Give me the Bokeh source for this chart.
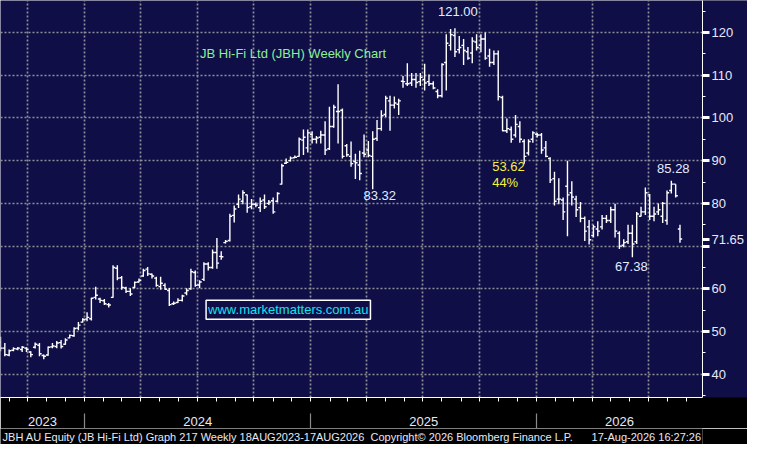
import numpy as np
import pandas as pd
from bokeh.plotting import figure
from bokeh.layouts import column
from bokeh.models import (Range1d, LinearAxis, FixedTicker, Label, ColumnDataSource,
                          CustomJSTickFormatter)
from bokeh.core.properties import value
from bokeh.embed import file_html
from bokeh.resources import INLINE

# ---------------- data ----------------
bar_start = "2023-08-18"          # first weekly bar
period_text = "18AUG2023-17AUG2026"

opens = [47.5, 46.1, 44.5, 45.6, 45.9, 45.8, 46.1, 45.2, 46.3, 46.8,
         44.4, 44.5, 46.4, 46.5, 47.4, 47.0, 48.5, 49.0, 50.8, 52.2,
         52.9, 53.0, 58.0, 57.6, 57.2, 56.3, 58.0, 64.8, 62.6, 60.2,
         59.4, 60.3, 61.6, 63.0, 64.6, 63.4, 62.5, 60.5, 60.8, 59.6,
         56.5, 56.8, 57.3, 59.0, 60.0, 63.8, 60.9, 62.2, 65.8, 65.0,
         68.5, 67.6, 70.8, 71.3, 77.2, 79.8, 80.5, 82.0, 79.2, 79.8,
         79.0, 80.8, 80.0, 80.6, 80.5, 84.5, 89.4, 90.0, 90.7, 91.0,
         94.8, 93.0, 96.2, 95.0, 95.5, 96.0, 92.8, 98.0, 101.5, 101.8,
         93.5, 91.0, 89.8, 89.0, 91.8, 92.5, 91.0, 95.2, 97.5, 100.8,
         104.0, 103.0, 103.2, 108.6, 108.0, 108.2, 109.0, 108.5, 109.0, 108.5,
         108.0, 106.2, 105.2, 113.0, 117.0, 119.3, 116.0, 117.0, 115.5, 115.2,
         117.8, 117.0, 118.5, 114.5, 113.0, 115.0, 104.8, 97.0, 97.3, 96.0,
         98.0, 94.5, 91.8, 95.0, 96.2, 96.0, 93.0, 90.5, 85.8, 81.0,
         80.8, 84.0, 82.5, 81.0, 79.0, 76.5, 74.5, 72.5, 74.0, 74.5,
         76.5, 76.0, 78.5, 73.0, 70.2, 71.0, 73.0, 71.0, 77.0, 78.0,
         82.0, 77.0, 78.0, 77.0, 76.0, 83.0, 84.5, 74.0]
highs = [48.8, 47.3, 45.8, 46.3, 46.4, 46.6, 46.3, 45.4, 47.4, 47.3,
         44.6, 46.5, 47.3, 47.8, 48.0, 48.4, 49.3, 51.0, 52.2, 53.1,
         54.5, 57.9, 60.5, 57.9, 57.6, 56.7, 65.5, 65.5, 63.0, 60.5,
         60.1, 61.7, 62.4, 64.7, 65.1, 63.6, 62.8, 62.8, 61.3, 60.2,
         57.0, 57.8, 58.6, 60.1, 64.7, 64.3, 62.0, 66.2, 66.2, 69.2,
         71.9, 68.8, 71.4, 77.6, 79.5, 82.1, 83.1, 82.1, 81.0, 80.2,
         81.4, 82.1, 80.8, 81.4, 82.6, 89.3, 90.5, 91.0, 91.2, 95.4,
         97.3, 97.3, 96.9, 95.8, 97.0, 99.2, 102.6, 103.1, 107.9, 102.2,
         93.9, 94.5, 91.6, 92.3, 96.1, 94.6, 96.9, 99.5, 101.8, 105.2,
         105.2, 105.0, 104.5, 109.8, 112.8, 110.5, 110.5, 110.5, 112.7, 110.2,
         108.6, 106.7, 112.8, 119.6, 120.8, 121.0, 119.2, 118.5, 116.6, 118.9,
         119.6, 119.6, 120.0, 116.2, 115.8, 115.8, 105.2, 99.9, 98.0, 100.7,
         99.2, 95.0, 95.0, 96.9, 96.5, 96.5, 94.6, 90.8, 87.4, 85.9,
         81.4, 90.0, 85.2, 81.8, 80.3, 76.9, 76.1, 75.0, 75.8, 77.3,
         77.3, 79.2, 79.9, 73.5, 71.6, 75.0, 75.0, 78.0, 79.2, 83.7,
         82.2, 79.2, 80.0, 80.3, 83.0, 85.28, 84.5, 75.0]
lows = [45.4, 44.2, 44.2, 45.4, 45.6, 45.2, 45.2, 44.0, 46.0, 44.2,
        43.5, 44.3, 46.1, 46.1, 46.0, 46.9, 48.4, 48.8, 50.3, 52.1,
        52.4, 52.6, 57.5, 56.7, 56.2, 55.6, 57.9, 62.0, 59.8, 59.0,
        58.3, 60.1, 61.5, 62.8, 63.0, 62.4, 60.5, 59.8, 59.8, 56.0,
        56.2, 56.7, 57.0, 58.5, 59.8, 60.5, 60.1, 61.8, 64.3, 64.7,
        64.7, 66.8, 70.6, 71.1, 75.5, 78.9, 79.8, 77.8, 78.6, 79.1,
        78.0, 78.7, 79.6, 77.6, 80.2, 84.4, 89.2, 89.8, 90.6, 90.9,
        91.3, 91.9, 94.0, 94.0, 94.0, 91.3, 92.5, 97.7, 94.0, 90.5,
        90.9, 88.6, 85.7, 85.4, 90.8, 90.8, 83.32, 94.6, 97.0, 100.2,
        97.0, 102.2, 100.7, 107.1, 107.5, 107.5, 107.1, 107.5, 106.4, 107.5,
        106.7, 104.6, 104.8, 106.4, 115.8, 114.3, 115.1, 112.4, 113.6, 112.8,
        115.8, 115.4, 113.6, 112.0, 112.4, 104.1, 96.9, 96.5, 94.2, 95.4,
        94.2, 89.3, 91.2, 94.2, 95.4, 91.6, 90.8, 84.8, 79.5, 79.8,
        76.1, 72.3, 79.5, 76.8, 75.6, 71.2, 70.4, 72.0, 72.3, 73.9,
        75.4, 75.4, 72.0, 69.3, 69.7, 70.5, 67.38, 70.5, 76.9, 77.3,
        76.1, 75.8, 77.3, 75.4, 75.0, 82.3, 81.4, 70.8]
closes = [46.1, 44.6, 45.5, 46.0, 46.1, 46.3, 45.8, 44.6, 47.0, 44.8,
          44.2, 46.3, 46.6, 47.3, 46.5, 48.0, 49.1, 50.7, 51.5, 52.8,
          53.3, 57.8, 58.5, 57.3, 56.5, 56.2, 65.0, 62.5, 60.3, 59.4,
          58.8, 61.5, 62.0, 64.3, 63.5, 63.0, 60.8, 61.3, 59.9, 56.3,
          56.6, 57.3, 58.3, 59.6, 64.0, 60.8, 61.6, 65.8, 65.0, 68.5,
          66.0, 67.5, 71.1, 77.0, 78.7, 81.0, 82.5, 79.0, 79.8, 79.6,
          80.5, 79.2, 80.3, 78.0, 82.3, 88.8, 89.6, 90.6, 90.8, 95.0,
          95.5, 96.5, 95.0, 95.3, 96.0, 92.5, 98.0, 102.5, 101.5, 91.0,
          91.4, 89.3, 89.5, 87.0, 91.5, 91.2, 95.0, 97.5, 100.5, 104.6,
          103.0, 103.5, 104.0, 108.5, 108.0, 109.0, 108.3, 109.5, 108.2, 108.0,
          107.0, 105.2, 112.5, 117.5, 119.5, 115.5, 116.5, 115.8, 114.0, 118.0,
          116.5, 118.5, 114.0, 113.0, 115.0, 105.0, 97.0, 97.5, 95.0, 98.5,
          95.0, 91.0, 94.5, 96.5, 96.0, 92.5, 91.0, 85.5, 80.5, 81.0,
          78.0, 82.0, 81.5, 78.5, 76.5, 73.5, 71.5, 74.5, 73.5, 76.5,
          76.0, 78.5, 73.5, 70.0, 70.8, 73.0, 70.5, 77.5, 78.0, 82.5,
          77.0, 77.5, 78.5, 80.0, 82.5, 84.5, 81.8, 71.65]

year_labels = ["2023", "2024", "2025", "2026"]
y_ticks = [40, 50, 60, 70, 80, 90, 100, 110, 120]
title_text = "JB Hi-Fi Ltd (JBH) Weekly Chart"
watermark_text = "www.marketmatters.com.au"
footer_left = "JBH AU Equity (JB Hi-Fi Ltd) Graph 217 Weekly " + period_text
footer_mid = "Copyright\u00a9 2026 Bloomberg Finance L.P."
footer_right = "17-Aug-2026 16:27:26"

# ---------------- styles ----------------
NAVY = "#0f0e47"
WHITE = "white"
LIGHT = "#e8e8f6"
FONT = "Liberation Sans"
X_END = 162.2
TICK = 0.5
W = 747

t0 = pd.Timestamp(bar_start)


def pos(d):
    return (pd.Timestamp(d) - t0).days / 7.0


n = len(closes)
xs = np.arange(n, dtype=float)
last = closes[-1]

months = pd.date_range("2023-09-01", "2026-09-01", freq="MS")
month_pos = [pos(d) for d in months if pos(d) < X_END]
quarters = pd.date_range("2023-10-01", "2026-07-01", freq="QS")
quarter_pos = [pos(d) for d in quarters]
year_bounds = [pos(f"{y}-01-01") for y in year_labels[1:]]
edges = [0.0] + year_bounds + [X_END]
year_centers = [(edges[k] + edges[k + 1]) / 2 for k in range(len(year_labels))]

p = figure(width=W, height=428, x_range=Range1d(0, X_END), y_range=Range1d(34.55, 127.5),
           y_axis_location="right", toolbar_location=None, output_backend="svg",
           min_border_left=0, min_border_top=0, min_border_right=0, min_border_bottom=0,
           background_fill_color=NAVY, border_fill_color="black", outline_line_color=None)

# grid
p.xgrid.ticker = FixedTicker(ticks=quarter_pos)
p.ygrid.ticker = FixedTicker(ticks=y_ticks)
for g in (p.xgrid[0], p.ygrid[0]):
    g.grid_line_color = "#8e8e98"
    g.grid_line_dash = "2 2"
    g.grid_line_width = 1.7

# right price axis (last price shown as its own tick label)
ya = p.yaxis[0]
ya.ticker = FixedTicker(ticks=sorted(y_ticks + [last]),
                        minor_ticks=[v + 5 for v in [30] + y_ticks])
ya.formatter = CustomJSTickFormatter(
    args=dict(last=last),
    code="""
    if (Math.abs(tick - last) < 1e-6) { return last.toFixed(2); }
    if (Math.abs(tick - last) < 3) { return ''; }
    return tick.toFixed(0);
    """)
ya.background_fill_color = NAVY
ya.axis_line_color = WHITE
ya.major_tick_line_color = WHITE
ya.major_tick_line_width = 3
ya.major_tick_in = 0
ya.major_tick_out = 7
ya.minor_tick_line_color = WHITE
ya.minor_tick_in = 0
ya.minor_tick_out = 3
ya.major_label_standoff = 2
ya.major_label_text_color = LIGHT
ya.major_label_text_font = FONT
ya.major_label_text_font_size = "13px"

# bottom axis: monthly ticks
xa = p.xaxis[0]
xa.ticker = FixedTicker(ticks=month_pos)
xa.formatter = CustomJSTickFormatter(code="return ''")
xa.axis_line_color = WHITE
xa.major_tick_line_color = WHITE
xa.major_tick_in = 0
xa.major_tick_out = 4
xa.minor_tick_line_color = None
xa.major_label_standoff = 0
xa.major_label_text_font_size = "1px"

# bottom axis: years with separators
xa2 = LinearAxis(ticker=FixedTicker(ticks=year_centers, minor_ticks=year_bounds),
                 formatter=CustomJSTickFormatter(args=dict(labels=year_labels),
                                                 code="return labels[index] || ''"))
xa2.axis_line_color = None
xa2.major_tick_line_color = None
xa2.major_tick_out = 0
xa2.minor_tick_line_color = "#8a8a8a"
xa2.minor_tick_line_width = 1.2
xa2.minor_tick_in = -12
xa2.minor_tick_out = 27
xa2.major_label_standoff = -12
xa2.major_label_text_color = LIGHT
xa2.major_label_text_font = FONT
xa2.major_label_text_font_size = "13px"
p.add_layout(xa2, "below")

# OHLC bars
src = ColumnDataSource(dict(x=xs, o=opens, h=highs, l=lows, c=closes,
                            xl=xs - TICK, xr=xs + TICK))
p.segment(x0="x", y0="l", x1="x", y1="h", source=src, line_color=WHITE, line_width=1.4)
p.segment(x0="xl", y0="o", x1="x", y1="o", source=src, line_color=WHITE, line_width=1.4)
p.segment(x0="x", y0="c", x1="xr", y1="c", source=src, line_color=WHITE, line_width=1.4)

# annotations derived from data
hi_i = int(np.argmax(highs))
lo_main = 80 + int(np.argmin(lows[80:100]))
lo_late = 130 + int(np.argmin(lows[130:]))
hi_late = 145 + int(np.argmax(highs[145:]))
drop = highs[hi_i] - lows[lo_late]
pct = drop / highs[hi_i] * 100

ann = ColumnDataSource(dict(
    x=[hi_i, lo_main, lo_late, hi_late],
    y=[highs[hi_i], lows[lo_main], lows[lo_late], highs[hi_late]],
    t=[f"{highs[hi_i]:.2f}", f"{lows[lo_main]:.2f}", f"{lows[lo_late]:.2f}", f"{highs[hi_late]:.2f}"],
    xo=[3, 7, -1, 2], yo=[-12, 2, 5, -8],
    b=["bottom", "top", "top", "bottom"],
))
p.text(x="x", y="y", text="t", x_offset="xo", y_offset="yo", text_baseline="b",
       text_align="center", source=ann, text_color="#e2ecff",
       text_font=value(FONT), text_font_size="13px")

p.text(x=[113.6, 113.6], y=[88.6, 84.9], text=[f"{drop:.2f}", f"{pct:.0f}%"],
       text_align="left", text_baseline="middle", text_color="#f4f23a",
       text_font=value(FONT), text_font_size="13px")

p.text(x=[46.1], y=[115.0], text=[title_text], text_align="left", text_baseline="middle",
       text_color="#8cf095", text_font=value(FONT), text_font_size="13px")

p.add_layout(Label(x=47.5, y=55.1, text=watermark_text, text_align="left",
                   text_baseline="middle", text_color="#14e2f0", text_font=FONT,
                   text_font_size="13px", border_line_color=WHITE, border_line_width=1.5,
                   background_fill_color=NAVY, padding=2))

# footer strip
f = figure(width=W, height=16, x_range=Range1d(0, 1), y_range=Range1d(0, 1),
           toolbar_location=None, output_backend="svg", x_axis_location=None,
           y_axis_location=None, min_border=0, background_fill_color="black",
           border_fill_color="black", outline_line_color=None)
f.grid.visible = False
for txt, x, al in [(footer_left, 0.003, "left"), (footer_mid, 0.527, "left"),
                   (footer_right, 0.998, "right")]:
    f.text(x=[x], y=[0.5], text=[txt], text_align=al, text_baseline="middle",
           text_color=LIGHT, text_font=value(FONT), text_font_size="11px")

layout = column(p, f, spacing=0)
open("out.html", "w").write(file_html(layout, INLINE))
